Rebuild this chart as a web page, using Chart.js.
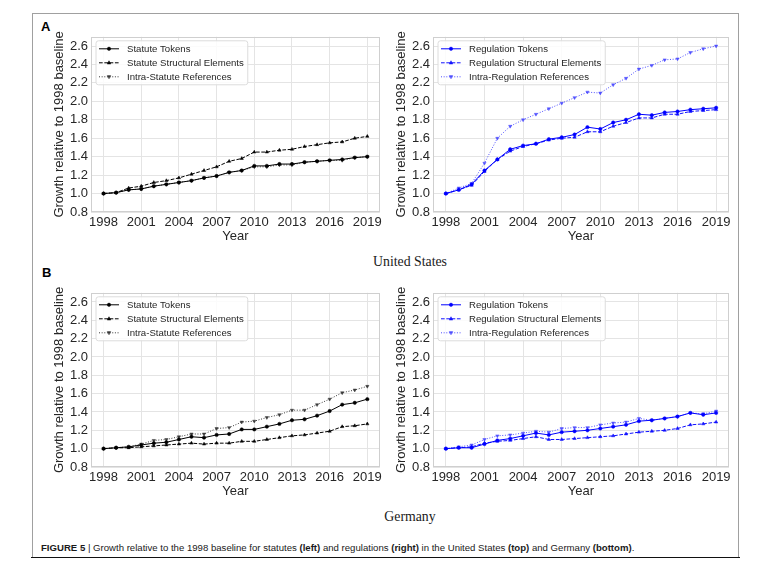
<!DOCTYPE html>
<html>
<head>
<meta charset="utf-8">
<script src="https://cdn.jsdelivr.net/npm/chart.js"></script>
<style>
  html, body { margin:0; padding:0; background:#fff; }
  body { width:757px; height:575px; position:relative; overflow:hidden; font-family:"Liberation Sans", Arial, sans-serif; }
  canvas { position:absolute; }
  .frame { position:absolute; left:32px; top:13px; width:707px; height:544px; border:1px solid #a0a0a0; border-bottom:none; box-sizing:border-box; }
  .rule { position:absolute; left:31px; top:557px; width:709px; height:0; border-top:1.6px solid #111; }
  .panel-letter { position:absolute; font-family:"Liberation Sans", Arial, sans-serif; font-weight:bold; font-size:13px; color:#000; }
  .country { position:absolute; font-family:"Liberation Serif", "Times New Roman", serif; font-size:13.8px; color:#1a1a1a; transform:translateX(-50%); white-space:nowrap; }
  .caption { position:absolute; left:41px; top:542px; font-family:"Liberation Sans", Arial, sans-serif; font-size:9.6px; color:#1a1a1a; white-space:nowrap; }
  .caption b { font-weight:bold; }
</style>
</head>
<body>
<div class="frame"></div>
<div class="rule"></div>
<div class="panel-letter" style="left:41px; top:19px;">A</div>
<div class="panel-letter" style="left:42px; top:265px;">B</div>
<div class="country" style="left:410px; top:254px;">United States</div>
<div class="country" style="left:410px; top:509px;">Germany</div>
<div class="caption"><b>FIGURE 5</b> | Growth relative to the 1998 baseline for statutes <b>(left)</b> and regulations <b>(right)</b> in the United States <b>(top)</b> and Germany <b>(bottom)</b>.</div>

<canvas id="usStat"></canvas>
<canvas id="usReg"></canvas>
<canvas id="deStat"></canvas>
<canvas id="deReg"></canvas>

<script>
// ---------------- DATA ----------------
const years = [1998,1999,2000,2001,2002,2003,2004,2005,2006,2007,2008,2009,2010,2011,2012,2013,2014,2015,2016,2017,2018,2019];
const xTickLabels = [1998,2001,2004,2007,2010,2013,2016,2019];
const yTickLabels = [0.8,1.0,1.2,1.4,1.6,1.8,2.0,2.2,2.4,2.6];

// United States – statutes
const usStatTokens = [1.00,1.01,1.04,1.05,1.08,1.10,1.12,1.14,1.17,1.19,1.23,1.25,1.30,1.30,1.32,1.32,1.34,1.35,1.36,1.37,1.39,1.40];
const usStatStruct = [1.00,1.01,1.06,1.08,1.12,1.14,1.17,1.21,1.25,1.29,1.35,1.38,1.45,1.45,1.47,1.48,1.51,1.53,1.55,1.56,1.60,1.62];
const usStatRefs   = [1.00,1.01,1.04,1.05,1.08,1.10,1.12,1.14,1.17,1.19,1.23,1.25,1.29,1.29,1.31,1.31,1.34,1.35,1.36,1.36,1.39,1.40];
// United States – regulations
const usRegTokens  = [1.00,1.04,1.10,1.25,1.37,1.48,1.52,1.54,1.59,1.61,1.64,1.72,1.70,1.77,1.80,1.86,1.85,1.88,1.89,1.91,1.92,1.93];
const usRegStruct  = [1.00,1.04,1.09,1.24,1.37,1.46,1.51,1.54,1.58,1.60,1.61,1.67,1.67,1.73,1.77,1.82,1.82,1.86,1.86,1.89,1.90,1.91];
const usRegRefs    = [1.00,1.06,1.11,1.33,1.60,1.73,1.80,1.86,1.92,1.98,2.04,2.10,2.09,2.18,2.25,2.35,2.39,2.45,2.46,2.53,2.57,2.60];
// Germany – statutes
const deStatTokens = [1.00,1.01,1.02,1.04,1.06,1.07,1.10,1.13,1.12,1.15,1.16,1.21,1.21,1.24,1.27,1.31,1.32,1.36,1.41,1.48,1.50,1.54];
const deStatStruct = [1.00,1.01,1.01,1.02,1.03,1.04,1.05,1.06,1.05,1.06,1.06,1.08,1.08,1.10,1.12,1.14,1.15,1.17,1.19,1.24,1.25,1.27];
const deStatRefs   = [1.00,1.01,1.02,1.05,1.09,1.10,1.13,1.16,1.16,1.22,1.23,1.29,1.30,1.34,1.37,1.42,1.42,1.48,1.54,1.61,1.64,1.68];
// Germany – regulations
const deRegTokens  = [1.00,1.01,1.01,1.05,1.09,1.11,1.14,1.17,1.15,1.18,1.19,1.20,1.22,1.24,1.26,1.30,1.31,1.33,1.35,1.39,1.37,1.39];
const deRegStruct  = [1.00,1.01,1.02,1.06,1.08,1.09,1.11,1.13,1.10,1.10,1.11,1.12,1.13,1.14,1.16,1.18,1.19,1.20,1.22,1.26,1.27,1.29];
const deRegRefs    = [1.00,1.02,1.04,1.10,1.14,1.15,1.17,1.19,1.18,1.22,1.23,1.23,1.26,1.28,1.29,1.33,1.31,1.33,1.35,1.39,1.38,1.41];

const statLabels = ['Statute Tokens','Statute Structural Elements','Intra-Statute References'];
const regLabels  = ['Regulation Tokens','Regulation Structural Elements','Intra-Regulation References'];

// ---------------- STYLE ----------------
const FONT = '"Liberation Sans", Arial, sans-serif';
const TEXT = '#262626';
const black = ['#000000','#000000','#3a3a3a'];
const blue  = ['#0000ff','#1010ff','#5050ff'];

function series(vals){ return years.map((y,i)=>({x:y, y:vals[i]})); }

function makeDatasets(labels, arrs, colors){
  const styles = [
    {dash:[], point:'circle', r:1.7, rot:0},
    {dash:[3.7,1.6], point:'triangle', r:1.9, rot:0},
    {dash:[1,1.65], point:'triangle', r:1.9, rot:180}
  ];
  return arrs.map((a,i)=>({
    label: labels[i],
    data: series(a),
    borderColor: colors[i],
    backgroundColor: colors[i],
    pointBackgroundColor: colors[i],
    pointBorderColor: colors[i],
    borderWidth: 1.0,
    borderDash: styles[i].dash,
    pointStyle: styles[i].point,
    pointRadius: styles[i].r,
    pointRotation: styles[i].rot,
    pointBorderWidth: 0.5,
    tension: 0,
    fill: false
  }));
}

function drawMarker(ctx, style, r, rot, x, y, color){
  ctx.save();
  ctx.fillStyle = color; ctx.strokeStyle = color; ctx.lineWidth = 0.5; ctx.setLineDash([]);
  ctx.translate(x,y);
  ctx.rotate(rot*Math.PI/180);
  ctx.beginPath();
  if (style === 'circle') {
    ctx.arc(0,0,r,0,Math.PI*2);
  } else {
    const s = r*1.5;
    ctx.moveTo(0,-s*0.72);
    ctx.lineTo(s*0.62,s*0.42);
    ctx.lineTo(-s*0.62,s*0.42);
    ctx.closePath();
  }
  ctx.fill(); ctx.stroke();
  ctx.restore();
}

const panelPlugin = {
  id: 'panelDecor',
  beforeDatasetsDraw(chart){
    const {ctx, chartArea:a} = chart;
    ctx.save();
    ctx.strokeStyle = '#cfcfcf';
    ctx.lineWidth = 1;
    ctx.strokeRect(Math.round(a.left)+0.5, Math.round(a.top)+0.5, Math.round(a.width)-1, Math.round(a.height)-1);
    ctx.restore();
  },
  afterDatasetsDraw(chart){
    const {ctx, chartArea:a} = chart;
    const dsets = chart.data.datasets;
    ctx.save();
    ctx.font = '9.6px ' + FONT;
    let tw = 0;
    dsets.forEach(d=>{ tw = Math.max(tw, ctx.measureText(d.label).width); });
    const bx = a.left + 5, by = a.top + 4;
    const bw = 3 + 20 + 8 + tw + 4, bh = 44;
    const rr = 2.5;
    ctx.beginPath();
    ctx.moveTo(bx+rr,by); ctx.lineTo(bx+bw-rr,by); ctx.quadraticCurveTo(bx+bw,by,bx+bw,by+rr);
    ctx.lineTo(bx+bw,by+bh-rr); ctx.quadraticCurveTo(bx+bw,by+bh,bx+bw-rr,by+bh);
    ctx.lineTo(bx+rr,by+bh); ctx.quadraticCurveTo(bx,by+bh,bx,by+bh-rr);
    ctx.lineTo(bx,by+rr); ctx.quadraticCurveTo(bx,by,bx+rr,by);
    ctx.closePath();
    ctx.fillStyle = 'rgba(255,255,255,0.85)';
    ctx.fill();
    ctx.strokeStyle = '#dcdcdc';
    ctx.lineWidth = 1;
    ctx.stroke();
    dsets.forEach((d,i)=>{
      const y = by + 8 + 14*i;
      const x0 = bx + 3, x1 = x0 + 20;
      ctx.save();
      ctx.strokeStyle = d.borderColor;
      ctx.lineWidth = d.borderWidth;
      ctx.setLineDash(d.borderDash);
      ctx.beginPath(); ctx.moveTo(x0,y); ctx.lineTo(x1,y); ctx.stroke();
      ctx.restore();
      drawMarker(ctx, d.pointStyle, d.pointRadius, d.pointRotation, (x0+x1)/2, y, d.pointBackgroundColor);
      ctx.fillStyle = TEXT;
      ctx.textBaseline = 'middle';
      ctx.textAlign = 'left';
      ctx.fillText(d.label, x1 + 8, y + 0.5);
    });
    ctx.restore();
  }
};

function makePanel(id, L, T, R, B, datasets){
  const padTop = 5, padRight = 5, yW = 55, xH = 33;
  const cv = document.getElementById(id);
  const w = (R - L) + yW + padRight, h = (B - T) + padTop + xH;
  cv.style.left = (L - yW) + 'px';
  cv.style.top = (T - padTop) + 'px';
  cv.style.width = w + 'px';
  cv.style.height = h + 'px';
  cv.width = w; cv.height = h;
  return new Chart(cv, {
    type: 'line',
    data: { datasets },
    plugins: [panelPlugin],
    options: {
      responsive: false,
      animation: false,
      devicePixelRatio: window.devicePixelRatio || 1,
      layout: { padding: { top: padTop, right: padRight, left: 0, bottom: 0 } },
      plugins: { legend: { display: false }, tooltip: { enabled: false } },
      scales: {
        x: {
          type: 'linear', min: 1997, max: 2020,
          afterBuildTicks: s => { s.ticks = xTickLabels.map(v => ({ value: v })); },
          afterFit: s => { s.height = xH; },
          ticks: { padding: 3, autoSkip: false, maxRotation: 0, color: TEXT, font: { family: FONT, size: 13 }, callback: v => String(v) },
          grid: { color: '#e4e4e4', lineWidth: 1, drawTicks: false },
          border: { display: false },
          title: { display: true, text: 'Year', color: TEXT, font: { family: FONT, size: 13 }, padding: { top: 0, bottom: 1 } }
        },
        y: {
          min: 0.8, max: 2.7,
          afterBuildTicks: s => { s.ticks = yTickLabels.map(v => ({ value: v })); },
          afterFit: s => { s.width = yW; },
          ticks: { padding: 3, color: TEXT, font: { family: FONT, size: 13 }, callback: v => Number(v).toFixed(1) },
          grid: { color: '#e4e4e4', lineWidth: 1, drawTicks: false },
          border: { display: false },
          title: { display: true, text: 'Growth relative to 1998 baseline', color: TEXT, font: { family: FONT, size: 13 }, padding: { top: 16, bottom: 0 } }
        }
      }
    }
  });
}

makePanel('usStat', 91, 31, 380, 212, makeDatasets(statLabels, [usStatTokens, usStatStruct, usStatRefs], black));
makePanel('usReg', 433, 31, 729, 212, makeDatasets(regLabels, [usRegTokens, usRegStruct, usRegRefs], blue));
makePanel('deStat', 91, 287, 380, 467, makeDatasets(statLabels, [deStatTokens, deStatStruct, deStatRefs], black));
makePanel('deReg', 433, 287, 729, 467, makeDatasets(regLabels, [deRegTokens, deRegStruct, deRegRefs], blue));
</script>
</body>
</html>
